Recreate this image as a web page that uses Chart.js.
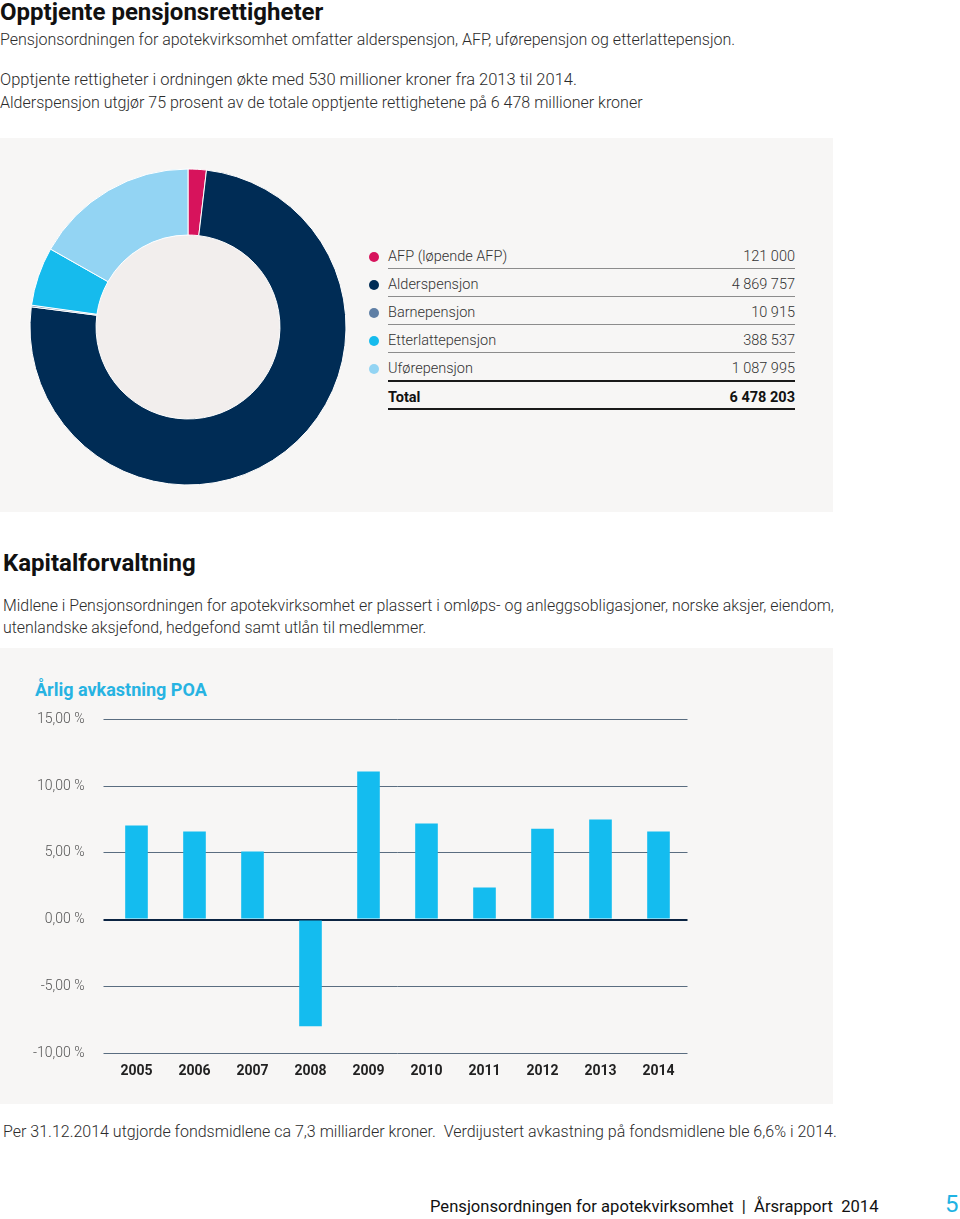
<!DOCTYPE html>
<html><head><meta charset="utf-8">
<script src="https://cdn.jsdelivr.net/npm/chart.js@4.4.1/dist/chart.umd.min.js"></script>
<style>
body{margin:0;width:960px;height:1219px;position:relative;background:#fff;font-family:Roboto,"Noto Sans",sans-serif;color:#2b2b2b;overflow:hidden}
.t{position:absolute;white-space:nowrap}
.h1{font-weight:700;font-size:24px;line-height:26px;color:#111}
.p{font-weight:300;font-size:16px;line-height:22px;color:#2b2b2b}
.panel{position:absolute;left:0;width:833px;background:#f7f6f5}
canvas{position:absolute}
.row{position:absolute;left:388px;width:407px;height:28px;line-height:28px;font-size:14.5px;font-weight:300;color:#333}
.row .v{position:absolute;right:0;top:0}
.dot{position:absolute;left:369px;width:10px;height:10px;border-radius:50%}
.ln{position:absolute;left:388px;width:407px}
</style></head><body>

<div class="t h1" style="left:0;top:-1px">Opptjente pensjonsrettigheter</div>
<div class="t p" style="left:0;top:29px">Pensjonsordningen for apotekvirksomhet omfatter alderspensjon, AFP, uførepensjon og etterlattepensjon.</div>
<div class="t p" style="left:0;top:69px;font-size:16.5px">Opptjente rettigheter i ordningen økte med 530 millioner kroner fra 2013 til 2014.</div>
<div class="t p" style="left:0;top:92px">Alderspensjon utgjør 75 prosent av de totale opptjente rettighetene på 6 478 millioner kroner</div>

<div class="panel" style="top:138px;height:374px"></div>
<canvas id="donut" width="330" height="330" style="left:23px;top:162px;width:330px;height:330px"></canvas>
<div id="legend"></div>

<div class="t h1" style="left:3px;top:550px">Kapitalforvaltning</div>
<div class="t p" style="left:3px;top:595px;font-size:15.9px">Midlene i Pensjonsordningen for apotekvirksomhet er plassert i omløps- og anleggsobligasjoner, norske aksjer, eiendom,</div>
<div class="t p" style="left:3px;top:617px;font-size:15.9px">utenlandske aksjefond, hedgefond samt utlån til medlemmer.</div>

<div class="panel" style="top:648px;height:456px"></div>
<div class="t" style="left:35px;top:679px;font-size:18px;line-height:22px;font-weight:700;color:#27b3e2">Årlig avkastning POA</div>
<canvas id="bars" width="700" height="398" style="left:0;top:692px;width:700px;height:398px"></canvas>

<div class="t p" style="left:3px;top:1121px">Per 31.12.2014 utgjorde fondsmidlene ca 7,3 milliarder kroner.&nbsp; Verdijustert avkastning på fondsmidlene ble 6,6% i 2014.</div>

<div class="t" style="left:430px;top:1196px;font-size:16.6px;line-height:22px;font-weight:400;color:#111">Pensjonsordningen for apotekvirksomhet&nbsp; | &nbsp;Årsrapport&nbsp; 2014</div>
<div class="t" style="left:945px;top:1190px;font-size:24px;line-height:28px;font-weight:400;color:#1fb3e3">5</div>

<script>
const pensionCategories = ['AFP (løpende AFP)', 'Alderspensjon', 'Barnepensjon', 'Etterlattepensjon', 'Uførepensjon'];
const pensionValues = [121000, 4869757, 10915, 388537, 1087995];
const pensionColors = ['#d7135c', '#002c55', '#5f7fa5', '#16bbed', '#93d4f3'];
const pensionTotalLabel = 'Total';
const pensionTotal = 6478203;

const years = ['2005', '2006', '2007', '2008', '2009', '2010', '2011', '2012', '2013', '2014'];
const returnsPct = [7.05, 6.6, 5.1, -8.0, 11.1, 7.2, 2.4, 6.8, 7.5, 6.6];
const yTickValues = [15, 10, 5, 0, -5, -10];

function fmt(n){ return String(n).replace(/\B(?=(\d{3})+(?!\d))/g, ' '); }

// legend table
const leg = document.getElementById('legend');
let html = '';
pensionCategories.forEach((c, i) => {
  const cy = 257 + 28 * i;
  html += `<div class="dot" style="top:${cy-5}px;background:${pensionColors[i]}"></div>`;
  html += `<div class="row" style="top:${cy-14}px">${c}<span class="v">${fmt(pensionValues[i])}</span></div>`;
  if (i < pensionCategories.length - 1) html += `<div class="ln" style="top:${cy+11}px;height:1px;background:#8c8c8c"></div>`;
  else html += `<div class="ln" style="top:${cy+11}px;height:2px;background:#1a1a1a"></div>`;
});
const ty = 257 + 28 * pensionCategories.length;
html += `<div class="row" style="top:${ty-13}px;font-weight:700;color:#111">${pensionTotalLabel}<span class="v">${fmt(pensionTotal)}</span></div>`;
html += `<div class="ln" style="top:${ty+11}px;height:2px;background:#1a1a1a"></div>`;
leg.innerHTML = html;

new Chart(document.getElementById('donut'), {
  type: 'doughnut',
  data: { labels: pensionCategories, datasets: [{ data: pensionValues, backgroundColor: pensionColors, borderColor: '#ffffff', borderWidth: 1 }] },
  options: {
    responsive: false, animation: false, radius: 158, cutout: '58.2%',
    layout: { padding: 0 },
    plugins: { legend: { display: false }, tooltip: { enabled: false } }
  },
  plugins: [{
    id: 'innerFill',
    beforeDatasetsDraw(chart) {
      const m = chart.getDatasetMeta(0).data[0];
      const ctx = chart.ctx;
      ctx.save(); ctx.fillStyle = '#f2eeed';
      ctx.beginPath(); ctx.arc(m.x, m.y, m.innerRadius, 0, Math.PI * 2); ctx.fill();
      ctx.restore();
    }
  }]
});

new Chart(document.getElementById('bars'), {
  type: 'bar',
  data: { labels: years, datasets: [{ data: returnsPct, backgroundColor: '#14bcef', barPercentage: 0.39, categoryPercentage: 1 }] },
  options: {
    responsive: false, animation: false,
    layout: { padding: { top: 0, right: 12.5, left: 0, bottom: 0 } },
    plugins: { legend: { display: false }, tooltip: { enabled: false } },
    scales: {
      x: {
        grid: { display: false }, border: { display: false },
        ticks: { padding: 2, color: '#222', font: { family: 'Roboto', size: 14, weight: 'bold' } },
        afterFit(s) { s.height = 37; }
      },
      y: {
        min: -10, max: 15,
        afterBuildTicks(s) { s.ticks = yTickValues.map(v => ({ value: v })); },
        afterFit(s) { s.width = 107.5; },
        border: { display: false },
        grid: {
          color: c => (c.tick && c.tick.value === 0) ? '#0b2442' : '#5a6d80',
          lineWidth: c => (c.tick && c.tick.value === 0) ? 2 : 1,
          tickLength: 4, drawTicks: true
        },
        ticks: {
          padding: 19, color: '#555', font: { family: 'Roboto', size: 14, weight: '300' },
          callback: v => v.toFixed(2).replace('.', ',') + ' %'
        }
      }
    }
  }
});
</script>
</body></html>
